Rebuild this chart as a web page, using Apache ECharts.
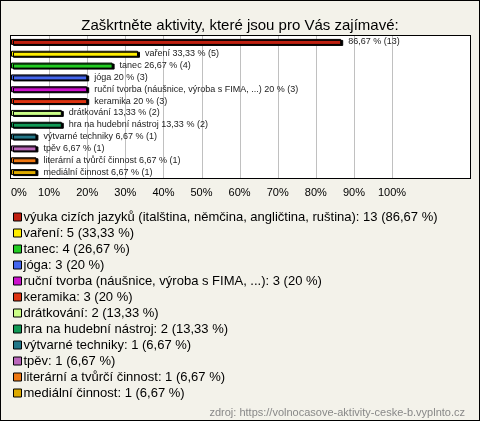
<!DOCTYPE html>
<html>
<head>
<meta charset="utf-8">
<script src="https://cdn.jsdelivr.net/npm/echarts@6/dist/echarts.min.js"></script>
<style>
  html, body { margin: 0; padding: 0; }
  #wrap {
    position: relative;
    width: 480px;
    height: 421px;
    box-sizing: border-box;
    border: 1px solid #000;
    background: #f3f2ea;
  }
  #plotbox {
    position: absolute;
    left: 9px;
    top: 34px;
    width: 461px;
    height: 144px;
    box-sizing: border-box;
    border: 1px solid #000;
    background: #fff;
  }
  #chart { position: absolute; left: -1px; top: -1px; width: 480px; height: 421px; }
</style>
</head>
<body>
<div id="wrap">
  <div id="plotbox"></div>
  <div id="chart"></div>
</div>
<script>
const categories = [
  'výuka cizích jazyků (italština, němčina, angličtina, ruština)',
  'vaření',
  'tanec',
  'jóga',
  'ruční tvorba (náušnice, výroba s FIMA, ...)',
  'keramika',
  'drátkování',
  'hra na hudební nástroj',
  'výtvarné techniky',
  'tpěv',
  'literární a tvůrčí činnost',
  'mediální činnost'
]
const counts = [13, 5, 4, 3, 3, 3, 2, 2, 1, 1, 1, 1]
const percents = [86.67, 33.33, 26.67, 20, 20, 20, 13.33, 13.33, 6.67, 6.67, 6.67, 6.67]
// first bar label has no name in the original
const barNames = ['', 'vaření', 'tanec', 'jóga', 'ruční tvorba (náušnice, výroba s FIMA, ...)', 'keramika',
  'drátkování', 'hra na hudební nástroj', 'výtvarné techniky', 'tpěv', 'literární a tvůrčí činnost', 'mediální činnost']
const colors = ['#c02010', '#ffee00', '#22cc22', '#4466ee', '#cc11cc', '#dd3311',
  '#ccff88', '#119955', '#227788', '#bb66bb', '#ee7711', '#ddaa00']
const xTicks = [0, 10, 20, 30, 40, 50, 60, 70, 80, 90, 100]

const font = 'Liberation Sans, Arial, sans-serif'
const fmt = v => String(v).replace('.', ',')

const series = categories.map((name, i) => ({
  name: name,
  type: 'bar',
  z: 10,
  barWidth: 6,
  barGap: '-100%',
  data: categories.map((c, j) => (j === i ? percents[i] : '-')),
  itemStyle: {
    color: colors[i],
    borderColor: '#000',
    borderWidth: 1,
    shadowColor: '#000',
    shadowOffsetX: 2,
    shadowOffsetY: 1,
    shadowBlur: 0
  },
  label: {
    show: true,
    position: 'right',
    distance: 7,
    fontFamily: font,
    fontSize: 9,
    color: '#222',
    formatter: () => (barNames[i] ? barNames[i] + ' ' : '') + fmt(percents[i]) + ' % (' + counts[i] + ')'
  },
  emphasis: { disabled: true }
}))

// vertical gridlines at the ticks, drawn as 1px rects through the x scale
series.push({
  name: 'gridlines',
  type: 'custom',
  z: 1,
  silent: true,
  encode: { x: 0 },
  data: xTicks.slice(1).map(v => [v]),
  renderItem: (params, api) => {
    const cs = params.coordSys
    const x = Math.round(api.coord([api.value(0), 0])[0])
    return {
      type: 'rect',
      shape: { x: x, y: cs.y, width: 1, height: cs.height },
      style: { fill: '#c0c0c0' }
    }
  }
})

const chart = echarts.init(document.getElementById('chart'))
chart.setOption({
  animation: false,
  backgroundColor: 'transparent',
  textStyle: { fontFamily: font },
  title: [
    {
      text: 'Zaškrtněte aktivity, které jsou pro Vás zajímavé:',
      left: 'center',
      top: 13,
      textStyle: { fontFamily: font, fontSize: 15, fontWeight: 'normal', color: '#000' }
    },
    {
      text: 'zdroj: https://volnocasove-aktivity-ceske-b.vyplnto.cz',
      right: 10,
      top: 402,
      textStyle: { fontFamily: font, fontSize: 11, fontWeight: 'normal', color: '#888' }
    }
  ],
  grid: { left: 11, top: 36, width: 381, height: 142 },
  xAxis: {
    type: 'value',
    min: xTicks[0],
    max: xTicks[xTicks.length - 1],
    interval: 10,
    axisLine: { show: false },
    axisTick: { show: false },
    splitLine: { show: false },
    axisLabel: {
      margin: 9,
      fontSize: 11,
      color: '#000',
      alignMinLabel: 'left',
      formatter: v => v + '%'
    }
  },
  yAxis: {
    type: 'category',
    data: categories,
    inverse: true,
    show: false
  },
  legend: {
    orient: 'vertical',
    left: 8,
    top: 205,
    itemWidth: 8,
    itemHeight: 8,
    itemGap: 2,
    icon: 'rect',
    selectedMode: false,
    itemStyle: { borderColor: '#000', borderWidth: 1, shadowBlur: 0, shadowOffsetX: 0, shadowOffsetY: 0, shadowColor: 'transparent' },
    textStyle: { fontFamily: font, fontSize: 13, color: '#000', lineHeight: 14, padding: [0, 0, 0, -3] },
    formatter: name => {
      const i = categories.indexOf(name)
      return name + ': ' + counts[i] + ' (' + fmt(percents[i]) + ' %)'
    },
    data: categories
  },
  series: series
})
</script>
</body>
</html>
